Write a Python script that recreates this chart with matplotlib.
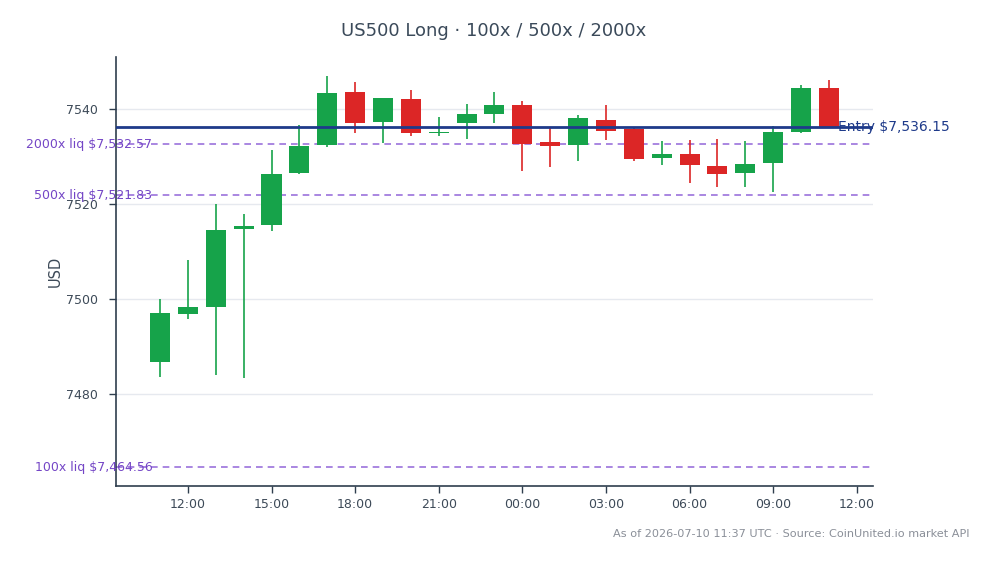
import matplotlib
matplotlib.use("Agg")
import matplotlib.pyplot as plt
import matplotlib.dates as mdates
import pandas as pd
import numpy as np

# ---- data ----
times = pd.date_range("2026-07-09 11:00", periods=25, freq="h")
opens  = [7486.8, 7496.8, 7498.2, 7514.6, 7515.6, 7526.4, 7532.3, 7543.6, 7537.2, 7542.0,
          7534.8, 7537.0, 7538.9, 7540.7, 7533.0, 7532.3, 7537.7, 7535.7, 7529.7, 7530.5,
          7528.0, 7526.4, 7528.5, 7535.1, 7544.4]
highs  = [7500.0, 7508.1, 7520.0, 7517.9, 7531.4, 7536.6, 7546.8, 7545.7, 7542.3, 7543.9,
          7538.3, 7541.1, 7543.6, 7541.7, 7535.9, 7538.6, 7540.8, 7536.1, 7533.3, 7533.5,
          7533.7, 7533.3, 7536.3, 7544.9, 7546.1]
lows   = [7483.6, 7495.7, 7484.0, 7483.3, 7514.2, 7526.2, 7531.9, 7535.0, 7532.8, 7534.2,
          7534.2, 7533.7, 7536.9, 7526.8, 7527.7, 7528.9, 7533.5, 7529.1, 7528.2, 7524.4,
          7523.6, 7523.5, 7522.4, 7535.0, 7536.0]
closes = [7497.0, 7498.2, 7514.5, 7515.4, 7526.2, 7532.1, 7543.4, 7537.0, 7542.2, 7534.9,
          7535.2, 7539.0, 7540.7, 7532.6, 7532.1, 7538.0, 7535.4, 7529.5, 7530.5, 7528.1,
          7526.2, 7528.4, 7535.2, 7544.4, 7536.15]

entry_price = 7536.15
liq_labels = ["2000x liq $7,532.57", "500x liq $7,521.83", "100x liq $7,464.56"]
liq_prices = [7532.57, 7521.83, 7464.56]

title = "US500 Long · 100x / 500x / 2000x"
footnote = "As of 2026-07-10 11:37 UTC · Source: CoinUnited.io market API"
tick_times = pd.date_range("2026-07-09 12:00", periods=9, freq="3h")

# ---- style ----
GREEN = "#16a34a"
RED = "#dc2626"
ENTRY = "#1e3a8a"
LIQ_LINE = "#9b72dc"
LIQ_TEXT = "#7446c6"
AXIS = "#2f3e4e"

fig = plt.figure(figsize=(9.93, 5.64), dpi=100)
ax = fig.add_axes([0.1168, 0.1383, 0.7623, 0.7607])

x = mdates.date2num(times)
hour = 1.0 / 24.0
width = 0.72 * hour

for xi, o, h, l, c in zip(x, opens, highs, lows, closes):
    col = GREEN if c >= o else RED
    ax.vlines(xi, l, h, color=col, linewidth=1.2, zorder=3)
    lo, hi = min(o, c), max(o, c)
    ax.bar(xi, max(hi - lo, 0.25), width=width, bottom=lo, color=col,
           edgecolor=col, linewidth=0, zorder=4)

ax.axhline(entry_price, color=ENTRY, linewidth=2, zorder=5)
ax.text(0.954, entry_price, f"Entry ${entry_price:,.2f}", transform=ax.get_yaxis_transform(),
        ha="left", va="center", color=ENTRY, fontsize=10, clip_on=False, zorder=6)

for lab, p in zip(liq_labels, liq_prices):
    ax.axhline(p, color=LIQ_LINE, linewidth=1.2, linestyle=(0, (4, 3)), zorder=2)
    ax.text(0.048, p, lab, transform=ax.get_yaxis_transform(), ha="right", va="center",
            color=LIQ_TEXT, fontsize=9, clip_on=False, zorder=6)

ax.set_xlim(x[0] - 1.58 * hour, x[-1] + 1.58 * hour)
ax.set_ylim(7460.6, 7550.9)
ax.set_yticks([7480, 7500, 7520, 7540])
ax.set_xticks(mdates.date2num(tick_times))
ax.xaxis.set_major_formatter(mdates.DateFormatter("%H:%M"))

ax.grid(axis="y", color="#e6e9ef", linewidth=1, zorder=0)
ax.set_axisbelow(True)
for s in ["top", "right"]:
    ax.spines[s].set_visible(False)
for s in ["left", "bottom"]:
    ax.spines[s].set_color(AXIS)
    ax.spines[s].set_linewidth(1.2)
ax.tick_params(axis="both", colors=AXIS, labelcolor="#3d4a58", labelsize=9, length=5, width=1)
ax.tick_params(axis="y", pad=8)
ax.set_ylabel("USD", fontsize=10.5, color="#3d4a58", labelpad=2)

fig.text(0.497, 0.945, title, ha="center", va="center", fontsize=13, color="#3b4a5a")
fig.text(0.976, 0.053, footnote, ha="right", va="center", fontsize=8.1, color="#8a8f98")

fig.savefig("out.png", dpi=100)
